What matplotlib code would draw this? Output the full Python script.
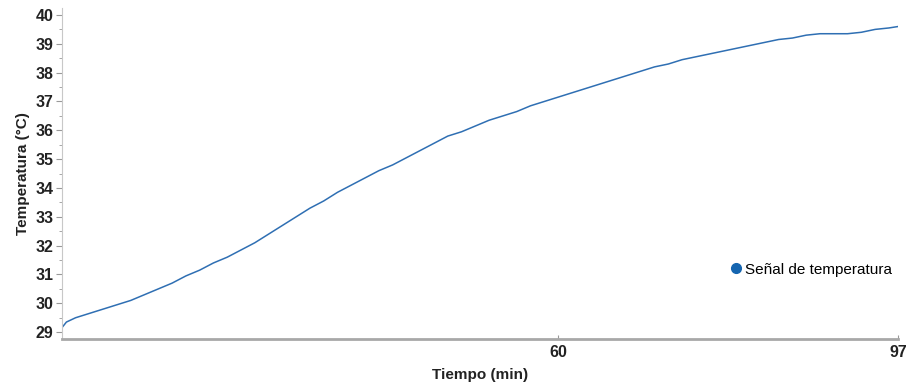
import numpy as np
import matplotlib.pyplot as plt
from matplotlib.ticker import MultipleLocator

plt.rcParams['font.family'] = ['Liberation Sans', 'DejaVu Sans']

# time (min) and temperature (degC)
tiempo = [6, 6.5, 7.5, 9, 10.5, 12, 13.5, 15, 16.5, 18, 19.5, 21, 22.5, 24, 25.5,
          27, 28.5, 30, 31.5, 33, 34.5, 36, 37.5, 39, 40.5, 42, 43.5, 45, 46.5,
          48, 49.5, 51, 52.5, 54, 55.5, 57, 58.5, 60, 61.5, 63, 64.5, 66, 67.5,
          69, 70.5, 72, 73.5, 75, 76.5, 78, 79.5, 81, 82.5, 84, 85.5, 87, 88.5,
          90, 91.5, 93, 94.5, 96, 97]
temperatura = [29.15, 29.35, 29.5, 29.65, 29.8, 29.95, 30.1, 30.3, 30.5, 30.7,
               30.95, 31.15, 31.4, 31.6, 31.85, 32.1, 32.4, 32.7, 33.0, 33.3,
               33.55, 33.85, 34.1, 34.35, 34.6, 34.8, 35.05, 35.3, 35.55, 35.8,
               35.95, 36.15, 36.35, 36.5, 36.65, 36.85, 37.0, 37.15, 37.3, 37.45,
               37.6, 37.75, 37.9, 38.05, 38.2, 38.3, 38.45, 38.55, 38.65, 38.75,
               38.85, 38.95, 39.05, 39.15, 39.2, 39.3, 39.35, 39.35, 39.35, 39.4,
               39.5, 39.55, 39.6]
xticks = [60, 97]
yticks = list(range(29, 41))

color = '#2f6fb3'

fig = plt.figure(figsize=(9.09, 3.84), dpi=100)
ax = fig.add_axes([0.068, 0.117, 0.92, 0.862])
ax.plot(tiempo, temperatura, color=color, lw=1.1)
ax.plot([], [], ls='none', marker='o', ms=7, color='#1565b0', label='Señal de temperatura')

ax.set_xlim(6, 97)
ax.set_ylim(28.76, 40.24)
ax.set_xticks(xticks)
ax.set_yticks(yticks)
ax.yaxis.set_minor_locator(MultipleLocator(0.5))

for s in ['top', 'right']:
    ax.spines[s].set_visible(False)
ax.spines['left'].set_color('#c8c8c8')
ax.spines['left'].set_linewidth(0.8)
ax.spines['bottom'].set_color('#a8a8a8')
ax.spines['bottom'].set_linewidth(2)

ax.tick_params(axis='y', which='major', length=4, color='#999999', labelsize=11.5, pad=2)
ax.tick_params(axis='y', which='minor', length=2.5, color='#999999')
ax.tick_params(axis='x', which='major', length=3, direction='in', color='#999999', labelsize=11.5, pad=4)
for lbl in ax.get_xticklabels() + ax.get_yticklabels():
    lbl.set_fontweight('bold')
    lbl.set_color('#222222')

ax.set_xlabel('Tiempo (min)', fontsize=11, fontweight='bold', color='#222222', labelpad=6)
ax.set_ylabel('Temperatura (°C)', fontsize=11, fontweight='bold', color='#222222', labelpad=4)

ax.legend(loc='center right', bbox_to_anchor=(1.0, 0.21), frameon=False, fontsize=11,
          handletextpad=0.1, handlelength=1.0, borderaxespad=0)

fig.savefig('out.png', dpi=100)
